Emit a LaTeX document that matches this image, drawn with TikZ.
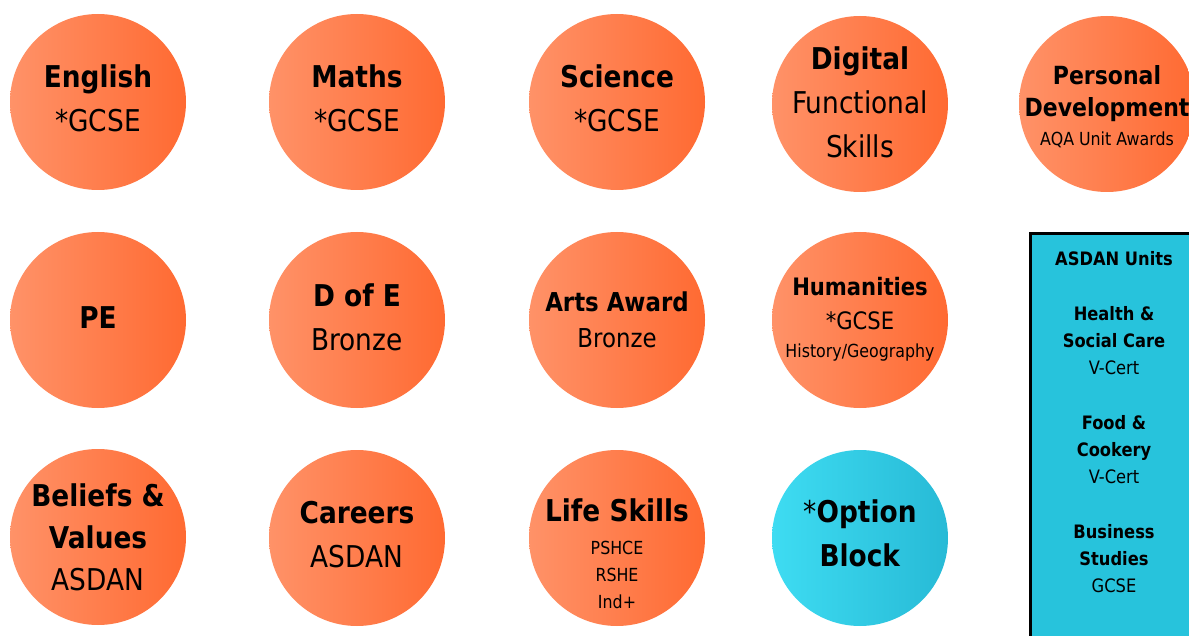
\documentclass[tikz,border=0pt]{standalone}
\usepackage{fontspec}
\setmainfont{DejaVu Sans}[FakeStretch=0.88]
\usepackage{tikz}
\usetikzlibrary{calc}

\definecolor{orangeL}{HTML}{FF9268}
\definecolor{orangeR}{HTML}{FF6A32}
\definecolor{cyanL}{HTML}{3EDCF2}
\definecolor{cyanR}{HTML}{27BAD6}
\definecolor{cyanBox}{HTML}{27C3DC}

\newcommand{\fs}[2]{\fontsize{#1}{#2}\selectfont}

\begin{document}
\begin{tikzpicture}
	[
	 x = 1pt, y = -1pt,
	 ball/.style = {shape=circle,
	                minimum size = 176pt,
	                inner sep = 0pt,
	                left color = orangeL,
	                right color = orangeR
	               },
	 optball/.style = {ball,
	                   left color = cyanL,
	                   right color = cyanR},
	 txt/.style = {align=center,
	               inner sep = 0pt,
	               font=\fs{30}{44}},
	 unitbox/.style = {shape=rectangle,
	                   draw=black,
	                   line width = 3pt,
	                   fill = cyanBox,
	                   anchor = north west,
	                   minimum width = 200pt,
	                   minimum height = 440pt},
	 unittext/.style = {txt,
	                    font=\fs{18.5}{27}}
	]
	\useasboundingbox (0,0) rectangle (1189,636);

	\newcommand{\DFS}{\textbf{Digital}\\Functional\\Skills}
	\newcommand{\PDA}{\textbf{Personal}\\\textbf{Development}\\[-3pt]{\fs{18}{18}AQA Unit Awards}}
	\newcommand{\HUM}{\textbf{Humanities}\\*GCSE\\[-6pt]{\fs{18}{18}History/Geography}}
	\newcommand{\LSK}{{\fs{30}{36}\textbf{Life Skills}}\\[6pt]{\fs{18}{27}PSHCE}\\RSHE\\Ind+}
	\newcommand{\BVA}{\textbf{Beliefs \&}\\[-2pt]\textbf{Values}\\[-2pt]ASDAN}
	\newcommand{\UNI}{\textbf{ASDAN Units}\\[28pt]
	                  \textbf{Health \&}\\\textbf{Social Care}\\V-Cert\\[28pt]
	                  \textbf{Food \&}\\\textbf{Cookery}\\V-Cert\\[28pt]
	                  \textbf{Business}\\\textbf{Studies}\\GCSE}

	% first row
	\node [ball] (eng) at (98,102)  {};
	\node [ball] (mat) at (357,102) {};
	\node [ball] (sci) at (617,102) {};
	\node [ball] (dig) at (860,104) {};
	\node [ball] (pde) at (1107,104) {};
	\node [txt] (eng-t) at (98,98)  {\textbf{English}\\*GCSE};
	\node [txt] (mat-t) at (357,98) {\textbf{Maths}\\*GCSE};
	\node [txt] (sci-t) at (617,98) {\textbf{Science}\\*GCSE};
	\node [txt] (dig-t) at (860,102) {\DFS};
	\node [txt, font=\fs{25}{32}] (pde-t) at (1107,107) {\PDA};

	% second row
	\node [ball] (pe)  at (98,320)  {};
	\node [ball] (doe) at (357,320) {};
	\node [ball] (art) at (617,320) {};
	\node [ball] (hum) at (860,320) {};
	\node [txt] (pe-t)  at (98,318)  {\textbf{PE}};
	\node [txt] (doe-t) at (357,317) {\textbf{D of E}\\Bronze};
	\node [txt, font=\fs{26}{36}] (art-t) at (617,320) {\textbf{Arts Award}\\Bronze};
	\node [txt, font=\fs{24}{34}] (hum-t) at (860,319) {\HUM};

	% third row
	\node [ball] (bel) at (98,537)  {};
	\node [ball] (car) at (357,538) {};
	\node [ball] (lif) at (617,538) {};
	\node [optball] (opt) at (860,538) {};
	\node [txt] (bel-t) at (98,537)  {\BVA};
	\node [txt] (car-t) at (357,535) {\textbf{Careers}\\ASDAN};
	\node [txt, font=\fs{18}{27}] (lif-t) at (617,553.5) {\LSK};
	\node [txt] (opt-t) at (860,533) {*\textbf{Option}\\\textbf{Block}};

	% ASDAN units box
	\node [unitbox] (box) at (1029,232) {};
	\node [unittext] (units) at (1114,422) {\UNI};
\end{tikzpicture}
\end{document}
